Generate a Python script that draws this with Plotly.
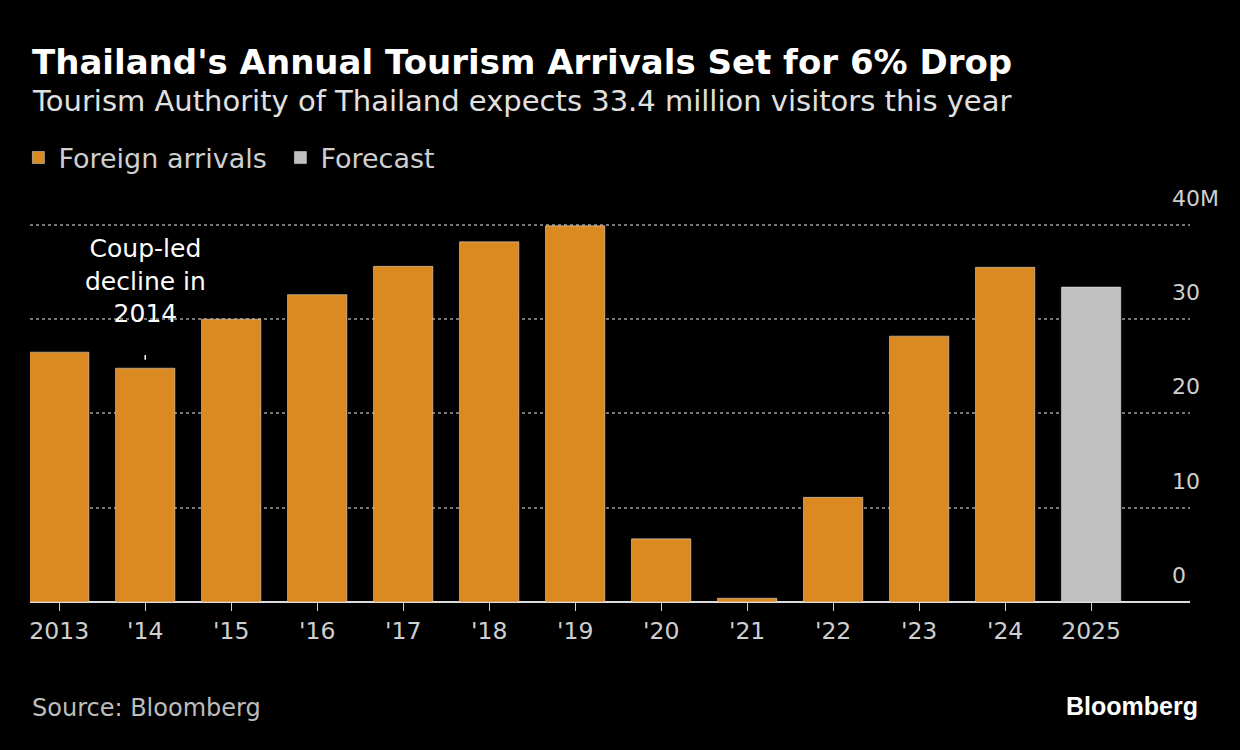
import plotly.graph_objects as go

years = ['2013', "'14", "'15", "'16", "'17", "'18", "'19", "'20", "'21", "'22", "'23", "'24", '2025']
arrivals = [26.5, 24.8, 30.0, 32.6, 35.6, 38.2, 39.9, 6.7, 0.4, 11.1, 28.2, 35.5, None]
forecast = [None] * 12 + [33.4]
y_ticks = [0, 10, 20, 30, 40]
y_labels = ['0', '10', '20', '30', '40M']

xs = list(range(len(years)))
W, H = 1240, 750
L, R, T, B = 30, 50, 190, 148
ymax = 43.7
PH = H - T - B
FONT = 'DejaVu Sans, sans-serif'


def py(pix):
    # pixel row -> paper y
    return (H - B - pix) / PH


fig = go.Figure()
fig.add_trace(go.Bar(x=xs, y=arrivals, marker_color='#db8a22', name='Foreign arrivals '))
fig.add_trace(go.Bar(x=xs, y=forecast, marker_color='#c0c0c0', name='Forecast'))

fig.update_layout(
    width=W, height=H,
    paper_bgcolor='black', plot_bgcolor='black',
    margin=dict(l=L, r=R, t=T, b=B),
    barmode='overlay', bargap=0.31,
    font=dict(family=FONT, color='#cfcfcf', size=22),
    showlegend=True,
    legend=dict(orientation='h', x=-0.01, xanchor='left', y=py(158), yanchor='middle',
                font=dict(size=27, color='#cfcfcf'), itemwidth=30, traceorder='normal'),
    xaxis=dict(range=[-0.34, 13.15], tickvals=xs, ticktext=years, showgrid=False, zeroline=False,
               ticks='outside', ticklen=8, tickcolor='#cfcfcf', tickfont=dict(size=23.5, color='#cfcfcf'),
               showline=False, fixedrange=True),
    yaxis=dict(range=[0, ymax], tickvals=y_ticks, showticklabels=False, showgrid=True,
               gridcolor='#777777', griddash='dot', gridwidth=1.5, zeroline=True,
               zerolinecolor='#dddddd', zerolinewidth=2),
)

for v, t in zip(y_ticks, y_labels):
    fig.add_annotation(x=(1170 - L) / (W - L - R), xref='paper', xanchor='left',
                       y=v, yref='y', yanchor='bottom', yshift=12, text=t, showarrow=False,
                       font=dict(size=22, color='#cfcfcf'))

fig.add_annotation(x=1, y=24.8, yshift=38, text='Coup-led<br>decline in<br>2014', showarrow=False,
                   yanchor='bottom', font=dict(size=25, color='white'))
fig.add_shape(type='line', x0=1, x1=1, y0=25.7, y1=26.2, line=dict(color='white', width=1.5))

fig.add_annotation(x=0, xref='paper', y=py(62), yref='paper', xanchor='left',
                   yanchor='middle', text="<b>Thailand's Annual Tourism Arrivals Set for 6% Drop</b>",
                   showarrow=False, font=dict(family=FONT, size=34, color='white'))
fig.add_annotation(x=0, xref='paper', y=py(101), yref='paper', xanchor='left',
                   yanchor='middle', text='Tourism Authority of Thailand expects 33.4 million visitors this year',
                   showarrow=False, font=dict(size=29, color='#e0e0e0'))
fig.add_annotation(x=0, xref='paper', y=py(708), yref='paper', xanchor='left',
                   yanchor='middle', text='Source: Bloomberg', showarrow=False,
                   font=dict(size=24, color='#bdbdbd'))
fig.add_annotation(x=(1200 - L) / (W - L - R), xref='paper', y=py(706), yref='paper',
                   xanchor='right', yanchor='middle', text='<b>Bloomberg</b>', showarrow=False,
                   font=dict(family='Liberation Sans, Arial', size=25, color='white'))

fig.write_html('out.html', config={'displayModeBar': False},
               post_script="document.body.style.margin='0';")
